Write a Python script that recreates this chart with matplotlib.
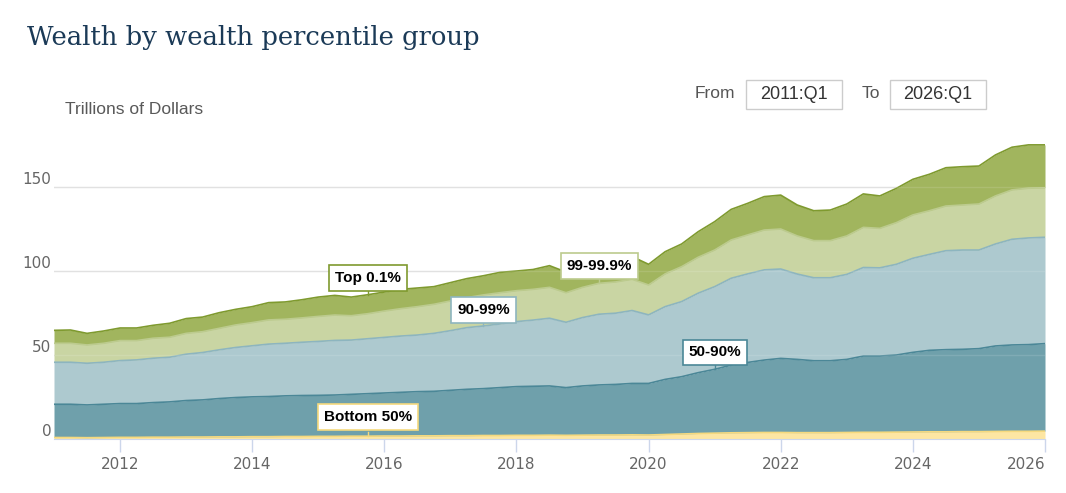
import numpy as np
import matplotlib
matplotlib.use("Agg")
import matplotlib.pyplot as plt
from matplotlib.patches import FancyBboxPatch

# quarterly, 2011:Q1 .. 2026:Q1 (trillions of dollars)
quarters = np.arange(2011, 2026.01, 0.25)

bottom50 = [0.7, 0.7, 0.6, 0.7, 0.8, 0.8, 0.9, 0.9, 1.0, 1.0, 1.1, 1.1, 1.2, 1.2, 1.3, 1.3,
            1.4, 1.4, 1.5, 1.5, 1.6, 1.6, 1.7, 1.7, 1.8, 1.8, 1.9, 1.9, 2.0, 2.0,
            2.1, 2.0, 2.1, 2.2, 2.2, 2.3, 2.2, 2.5, 2.8, 3.1, 3.3, 3.5, 3.6, 3.7, 3.7,
            3.6, 3.6, 3.6, 3.7, 3.8, 3.8, 3.9, 4.0, 4.1, 4.1, 4.2, 4.2, 4.3, 4.4, 4.4, 4.5]

p50_90 = [19.8, 19.8, 19.5, 19.8, 20.1, 20.1, 20.6, 21.0, 21.7, 22.1, 22.8, 23.4, 23.7, 23.9, 24.2, 24.4,
          24.4, 24.6, 24.9, 25.3, 25.6, 26.0, 26.3, 26.5, 27.0, 27.6, 27.9, 28.5, 29.0, 29.2,
          29.3, 28.4, 29.3, 29.8, 30.1, 30.6, 30.7, 32.8, 34.1, 36.2, 38.0, 40.3, 41.8, 43.1, 44.1,
          43.6, 42.8, 42.8, 43.5, 45.4, 45.4, 45.9, 47.4, 48.5, 48.9, 49.0, 49.4, 50.9, 51.4, 51.6, 52.1]

p90_99 = [25.0, 25.0, 24.8, 25.0, 25.6, 26.0, 26.4, 26.6, 27.6, 28.2, 29.0, 29.8, 30.4, 31.2, 31.3, 31.7,
          32.1, 32.5, 32.3, 32.7, 33.1, 33.5, 33.7, 34.5, 35.5, 36.7, 37.3, 37.9, 38.7, 39.4,
          40.3, 38.9, 40.7, 42.1, 42.4, 43.4, 40.8, 43.3, 44.7, 47.3, 49.2, 51.7, 52.7, 53.7, 53.2,
          50.8, 49.4, 49.4, 50.6, 52.7, 52.5, 54.0, 56.0, 57.1, 58.9, 59.1, 58.7, 60.7, 62.9, 63.5, 63.3]

p99_999 = [11.3, 11.3, 10.9, 11.3, 11.9, 11.5, 11.9, 11.9, 12.4, 12.4, 12.8, 13.4, 13.8, 14.4, 14.3, 14.5,
           14.9, 15.1, 14.5, 14.9, 15.7, 16.3, 16.9, 17.3, 17.7, 17.9, 18.5, 18.6, 18.4, 18.3,
           18.4, 17.6, 18.0, 18.4, 18.6, 18.6, 17.8, 19.5, 20.8, 21.4, 21.8, 22.8, 23.2, 23.7, 23.8,
           22.7, 22.1, 22.1, 22.9, 23.9, 23.5, 24.8, 25.8, 26.0, 26.6, 26.8, 27.4, 28.6, 29.4, 29.6, 29.4]

top01 = [7.7, 7.9, 6.9, 7.3, 7.5, 7.5, 7.7, 8.3, 8.8, 8.7, 9.3, 9.3, 9.5, 10.3, 10.3, 10.8,
         11.5, 11.7, 11.1, 11.3, 11.3, 11.5, 11.1, 10.5, 10.9, 11.3, 11.4, 12.1, 11.7, 11.8,
         12.9, 12.3, 11.9, 11.9, 12.1, 13.5, 12.3, 13.2, 13.5, 15.2, 16.9, 18.2, 18.8, 19.9, 20.2,
         18.4, 17.8, 18.2, 19.0, 19.9, 19.3, 20.4, 21.2, 21.7, 22.8, 22.8, 22.6, 24.4, 25.4, 25.8, 25.6]

groups = ["Bottom 50%", "50-90%", "90-99%", "99-99.9%", "Top 0.1%"]
fills = ["#fde6a3", "#6fa0ab", "#adc9cf", "#c9d5a3", "#a1b55e"]
edges = ["#f5d97e", "#4b8797", "#8db5bf", "#bccb8e", "#7f9a2f"]

series = np.array([bottom50, p50_90, p90_99, p99_999, top01])
tops = np.cumsum(series, axis=0)

W, H = 1066, 493
fig = plt.figure(figsize=(W / 100, H / 100), dpi=100)
x0, x1, y0, y1 = 54, 1045, 438.7, 128
ax = fig.add_axes([x0 / W, 1 - y0 / H, (x1 - x0) / W, (y0 - y1) / H])

lower = np.zeros(len(quarters))
for k in range(5):
    ax.fill_between(quarters, lower, tops[k], color=fills[k], lw=0, zorder=2)
    ax.plot(quarters, tops[k], color=edges[k], lw=1.2, zorder=3)
    lower = tops[k]

ax.set_xlim(2011, 2026)
ax.set_ylim(0, (y0 - y1) / 1.68)
for v in [50, 100, 150]:
    ax.axhline(v, color="#dddddd", lw=1, zorder=1)
    ax.axhline(v, color="#ffffff", lw=1, alpha=0.12, zorder=4)

ax.set_yticks([0, 50, 100, 150])
ax.set_xticks(range(2012, 2027, 2))
ax.tick_params(axis="y", length=0, labelsize=11, labelcolor="#666666", pad=2)
ax.tick_params(axis="x", length=9, width=1, color="#ccd6eb", labelsize=11,
               labelcolor="#666666", pad=4)
for lab in ax.get_yticklabels():
    lab.set_verticalalignment("bottom")
xl = ax.get_xticklabels()
xl[-1].set_horizontalalignment("right")
xl[-1].set_x(2026.03)
for s in ["top", "right", "left"]:
    ax.spines[s].set_visible(False)
ax.spines["bottom"].set_color("#ccd6eb")
ax.spines["bottom"].set_zorder(5)

# series labels
lab_pts = [(0, 19), (1, 40), (2, 26), (3, 33), (4, 19)]
lab_dy = [19, 17, 16, 17, 17]
for (k, i), dy in zip(lab_pts, lab_dy):
    px, py = quarters[i], tops[k][i]
    ax.plot([px, px], [py, py + 4 / 1.68], color=edges[k], lw=1, zorder=6)
    ax.annotate(groups[k], xy=(px, py), xytext=(0, dy), textcoords="offset pixels",
                ha="center", va="center", fontsize=11, fontweight="bold", color="black",
                family="Liberation Sans", zorder=7,
                bbox=dict(boxstyle="square,pad=0.38", fc="white", ec=edges[k], lw=1.2))

fig.text(27 / W, 1 - 38 / H, "Wealth by wealth percentile group", fontsize=18.6,
         family="DejaVu Serif", color="#1b3a57", va="center", ha="left")
fig.text(65 / W, 1 - 110 / H, "Trillions of Dollars", fontsize=12.5, color="#595959",
         family="Liberation Sans", va="center", ha="left")

fig.text(735 / W, 1 - 94 / H, "From", fontsize=12.5, color="#555555",
         family="Liberation Sans", va="center", ha="right")
fig.text(880 / W, 1 - 94 / H, "To", fontsize=12.5, color="#555555",
         family="Liberation Sans", va="center", ha="right")
for bx, txt in [(746, "2011:Q1"), (890, "2026:Q1")]:
    fig.patches.append(FancyBboxPatch((bx / W, 1 - 109 / H), 96 / W, 29 / H,
                                      boxstyle="square,pad=0", fc="white", ec="#cccccc",
                                      lw=1, transform=fig.transFigure, figure=fig))
    fig.text((bx + 48) / W, 1 - 94.5 / H, txt, fontsize=13, color="#333333",
             family="Liberation Sans", va="center", ha="center")

fig.savefig("out.png", dpi=100)
